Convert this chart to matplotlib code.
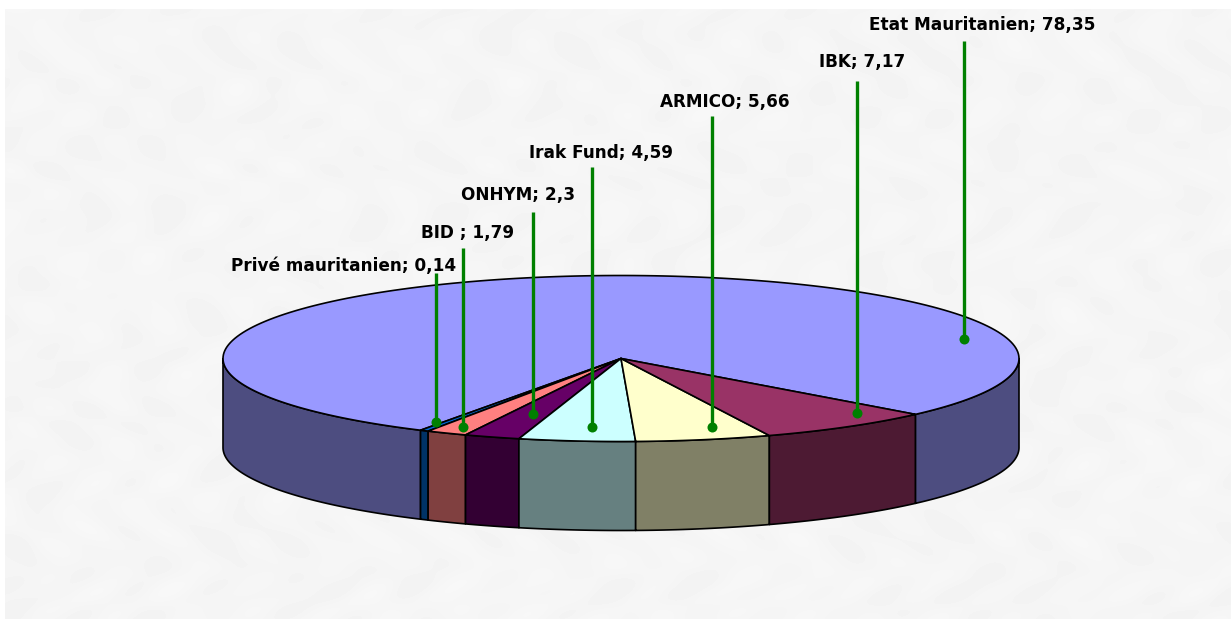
import numpy as np
import matplotlib
matplotlib.use("Agg")
import matplotlib.pyplot as plt

# pie data, in drawing order (counterclockwise from the right edge of Etat)
names = ["Etat Mauritanien", "Privé mauritanien", "BID ", "ONHYM", "Irak Fund", "ARMICO", "IBK"]
shares = [78.35, 0.14, 1.79, 2.3, 4.59, 5.66, 7.17]
shares_txt = ["78,35", "0,14", "1,79", "2,3", "4,59", "5,66", "7,17"]
top_colors = ["#9999ff", "#0066cc", "#ff8080", "#660066", "#ccffff", "#ffffcc", "#993366"]
side_colors = ["#4d4d80", "#003366", "#804040", "#330033", "#668080", "#808066", "#4d1a33"]

# leader layout in pixels
dot_x = [964, 436, 463, 533, 592, 712, 857]
dot_y = [339, 422, 427, 414, 427, 427, 413]
line_top = [41, 273, 248, 212, 167, 116, 81]
label_x = [869, 231, 421, 461, 529, 660, 819]
label_y = [25, 266, 233, 195, 153, 102, 62]

cx, cy, rx, ry, depth = 621, 358.5, 398, 83, 89
start = -42.3
# the original rounds its slice edges a little, degrees
edge_nudge = [0, 0, 0.75, 0.3, 0.15, 0.6, 0, 0]

W, H = 1231, 619
fig = plt.figure(figsize=(W / 100, H / 100), dpi=100)
ax = fig.add_axes([0, 0, 1, 1])
ax.axis("off")

# mottled paper background
yy, xx = np.mgrid[9:H, 5:W]
tex = (np.sin(xx / 23.0 + 1.7 * np.sin(yy / 31.0)) * np.sin(yy / 17.0 + 1.9 * np.sin(xx / 41.0))
       + 0.6 * np.sin(xx / 11.0 + 3 * np.sin(yy / 19.0) + 2 * np.sin(yy / 47.0))
       + 0.5 * np.sin(xx / 67.0 + 2 * np.sin(yy / 13.0)) * np.sin(xx / 13.0 - 2 * np.sin(yy / 29.0)))
ax.imshow(245 + 1.3 * tex, cmap="gray", vmin=0, vmax=255, extent=(5, W, H, 9),
          aspect="auto", interpolation="bilinear", zorder=0)
ax.set_xlim(0, W)
ax.set_ylim(H, 0)


def rim(a0, a1):
    t = np.radians(np.linspace(a0, a1, 200))
    return cx + rx * np.cos(t), cy - ry * np.sin(t)


edges = start + np.concatenate([[0], np.cumsum(shares)]) * 3.6 + np.array(edge_nudge)

# side walls, only the front half shows
for i in range(len(shares)):
    a0, a1 = edges[i], edges[i + 1]
    for lo, hi in [(a0, a1), (a0 - 360, a1 - 360)]:
        lo2, hi2 = max(lo, -180), min(hi, 0)
        if hi2 <= lo2:
            continue
        x, y = rim(lo2, hi2)
        ax.fill(np.r_[x, x[::-1]], np.r_[y, y[::-1] + depth], fc=side_colors[i],
                ec="black", lw=1.2, zorder=2, joinstyle="round")

# top of the pie
for i in range(len(shares)):
    x, y = rim(edges[i], edges[i + 1])
    ax.fill(np.r_[cx, x], np.r_[cy, y], fc=top_colors[i], ec="black", lw=1.2,
            zorder=3, joinstyle="round")

# leaders and labels
for i in range(len(names)):
    ax.plot([dot_x[i], dot_x[i]], [line_top[i], dot_y[i]], color="#008000", lw=2.4,
            solid_capstyle="butt", zorder=4)
    ax.plot(dot_x[i], dot_y[i], "o", color="#008000", ms=7.2, mew=0, zorder=5)
    ax.text(label_x[i], label_y[i], names[i] + "; " + shares_txt[i], family="DejaVu Sans",
            fontweight="bold", fontsize=12.2, color="black", ha="left", va="center", zorder=6)

fig.savefig("out.png", dpi=100)
